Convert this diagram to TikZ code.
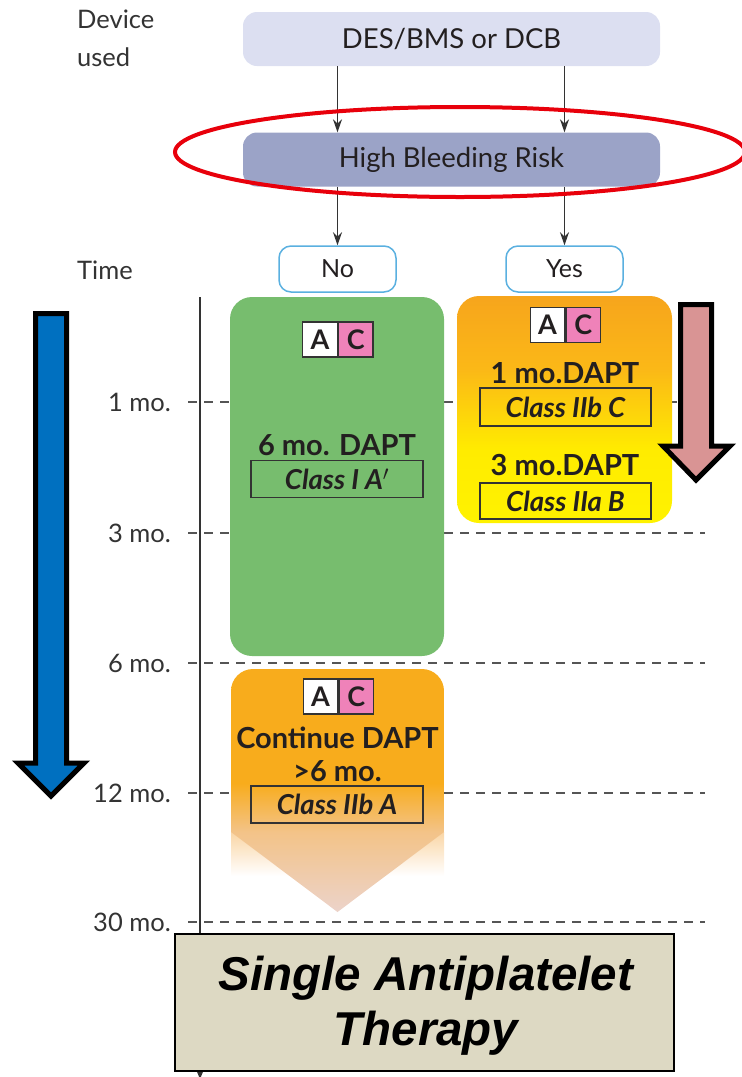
\documentclass[tikz,border=0pt]{standalone}
\usepackage{fontspec}
\setmainfont{Lato}
\newfontfamily\arialfont{Liberation Sans}
\usetikzlibrary{arrows.meta}
\definecolor{desfill}{HTML}{DCDFF1}
\definecolor{hbrfill}{HTML}{9BA3C7}
\definecolor{ringred}{HTML}{E8000B}
\definecolor{nobord}{HTML}{5AB0E0}
\definecolor{greenfill}{HTML}{77BD6E}
\definecolor{orangeA}{HTML}{F7A51C}
\definecolor{orangeB}{HTML}{FBB817}
\definecolor{yellowA}{HTML}{FFEC00}
\definecolor{yellowB}{HTML}{FFF200}
\definecolor{contor}{HTML}{F8AC1C}
\definecolor{contlight}{HTML}{F3C388}
\definecolor{contpink}{HTML}{ECD3CA}
\definecolor{sidefade}{HTML}{FAD6A6}
\definecolor{badgepink}{HTML}{EF82B9}
\definecolor{pinkarrow}{HTML}{D99494}
\definecolor{bluearrow}{HTML}{0070C0}
\definecolor{saptfill}{HTML}{DDD9C3}
\definecolor{txt}{HTML}{231F20}
\definecolor{graytxt}{HTML}{333333}
\definecolor{dashgray}{HTML}{555555}
\pgfdeclareverticalshading{yesshade}{100bp}{color(0bp)=(yellowB); color(25bp)=(yellowB); color(41bp)=(yellowA); color(59bp)=(orangeB); color(75bp)=(orangeA); color(100bp)=(orangeA)}
\pgfdeclareverticalshading{contshade}{100bp}{color(0bp)=(contpink); color(25bp)=(contpink); color(41.5bp)=(contlight); color(51.5bp)=(contor); color(75bp)=(contor); color(100bp)=(contor)}
\begin{document}
\begin{tikzpicture}[x=1pt,y=-1pt,
  topbox/.style={rounded corners=14pt, minimum width=417pt, minimum height=54pt, inner sep=0pt,
    text=txt, font=\fontsize{27.5}{31}\selectfont},
  yesno/.style={draw=nobord, line width=1.5pt, fill=white, rounded corners=12pt,
    minimum width=117pt, minimum height=46pt, inner sep=0pt, text=txt, font=\fontsize{25}{28}\selectfont},
  conn/.style={draw=graytxt, line width=1.1pt, -{Stealth[length=13pt,width=9pt]}},
  dashline/.style={draw=dashgray, line width=1.6pt, dash pattern=on 9pt off 7pt},
  timelbl/.style={anchor=east, text=graytxt, inner sep=0pt, font=\fontsize{25.5}{28}\selectfont},
  cell/.style={draw=graytxt, line width=1.2pt, minimum width=34.5pt, minimum height=35pt, inner sep=0pt,
    text=txt, font=\fontsize{27}{28}\selectfont\bfseries},
  dapt/.style={text=txt, inner sep=0pt, font=\fontsize{29}{32}\selectfont\bfseries},
  classbox/.style={draw=graytxt, line width=1.2pt, minimum width=172pt, minimum height=37pt, inner sep=0pt,
    text=txt, font=\fontsize{27.5}{30}\selectfont\bfseries\itshape},
  bigarrow/.style={draw=black, line width=5pt, miter limit=10},
]
\useasboundingbox (0,0) rectangle (742,1077);
\clip (0,0) rectangle (742,1077);

% dashed time lines and labels
\node[timelbl] (t1) at (171,402) {1 mo.};
\node[timelbl] (t3) at (171,533) {3 mo.};
\node[timelbl] (t6) at (171,663) {6 mo.};
\node[timelbl] (t12) at (171,793) {12 mo.};
\node[timelbl] (t30) at (171,922) {30 mo.};
\foreach \t in {t1,t3,t6,t12,t30}{
  \draw[dashline] ([xshift=17pt]\t.east) -- ([xshift=534pt]\t.east);
}
% time axis
\draw[draw=graytxt, line width=1.6pt, -{Stealth[length=12pt,width=10pt]}] (200,297) -- (200,1079);

% left labels
\node[anchor=north west, align=left, inner sep=0pt, text=graytxt, font=\fontsize{25.5}{38}\selectfont] (dev) at (77,10) {Device\\used};
\node[anchor=west, inner sep=0pt, text=graytxt, font=\fontsize{25.5}{28}\selectfont] (time) at (77,270) {Time};

% top boxes
\node[topbox, fill=desfill] (des) at (451.5,39) {DES/BMS or DCB};
\node[topbox, fill=hbrfill] (hbr) at (451.5,159.5) {High Bleeding Risk};
\node[yesno] (no) at (337.5,269) {No};
\node[yesno] (yes) at (564.5,269) {Yes};
\draw[conn] (des.south -| no.north) -- (hbr.north -| no.north);
\draw[conn] (des.south -| yes.north) -- (hbr.north -| yes.north);
\draw[conn] (hbr.south -| no.north) -- (no.north);
\draw[conn] (hbr.south -| yes.north) -- (yes.north);
\draw[ringred, line width=4pt] (460,152) ellipse [x radius=285pt, y radius=45pt];

% green box
\node[fill=greenfill, rounded corners=22pt, minimum width=214pt, minimum height=359pt, inner sep=0pt] (green) at (337,476.5) {};
\node[cell, fill=white] (ga) at (320,339.5) {A};
\node[cell, fill=badgepink, anchor=west] (gc) at (ga.east) {C};
\node[dapt] (g6) at (337,445) {6 mo. DAPT};
\node[classbox] (gcl) at (337,479) {Class I A$'$};

% yes box
\node[shade, shading=yesshade, rounded corners=22pt, minimum width=215pt, minimum height=227pt, inner sep=0pt] (yesbox) at (564.5,409.5) {};
\node[cell, fill=white] (ya) at (547.5,325) {A};
\node[cell, fill=badgepink, anchor=west] (yc) at (ya.east) {C};
\node[dapt] (y1) at (565,373) {1 mo.DAPT};
\node[classbox, minimum width=171pt, minimum height=38pt] (ycl1) at (565.5,407) {Class IIb C};
\node[dapt] (y3) at (565,465) {3 mo.DAPT};
\node[classbox, minimum width=171pt, minimum height=36pt] (ycl3) at (565.5,501) {Class IIa B};

% continue box
\shade[top color=sidefade, bottom color=white] (231,832) rectangle (444,876);
\shade[shading=contshade] (231,832) -- (231,700) [rounded corners=22pt] -- (231,669) -- (444,669) -- (444,700) [sharp corners] -- (444,832) -- (337.5,912) -- cycle;
\node[cell, fill=white] (ca) at (320.5,696.5) {A};
\node[cell, fill=badgepink, anchor=west] (cc) at (ca.east) {C};
\node[dapt] (c1) at (337.5,738) {Continue DAPT};
\node[dapt] (c2) at (337.5,771) {>6 mo.};
\node[classbox] (ccl) at (337,804.5) {Class IIb A};

% big arrows
\draw[bigarrow, fill=pinkarrow] (680.5,304.5) -- (711.5,304.5) -- (711.5,446) -- (730,446) -- (696,480) -- (663,446) -- (680.5,446) -- cycle;
\draw[bigarrow, fill=bluearrow] (35.5,313.5) -- (66.5,313.5) -- (66.5,763) -- (84,763) -- (51,796) -- (18,763) -- (35.5,763) -- cycle;

% single antiplatelet therapy
\node[draw=black, line width=2.5pt, fill=saptfill, minimum width=499pt, minimum height=137pt, inner sep=0pt] (sapt) at (424.5,1002.5) {};
\node[align=center, inner sep=0pt, text=black, font=\arialfont\fontsize{47.5}{55}\selectfont\bfseries\itshape] (sapttxt) at (426,1006) {Single Antiplatelet\\Therapy};
\end{tikzpicture}
\end{document}
